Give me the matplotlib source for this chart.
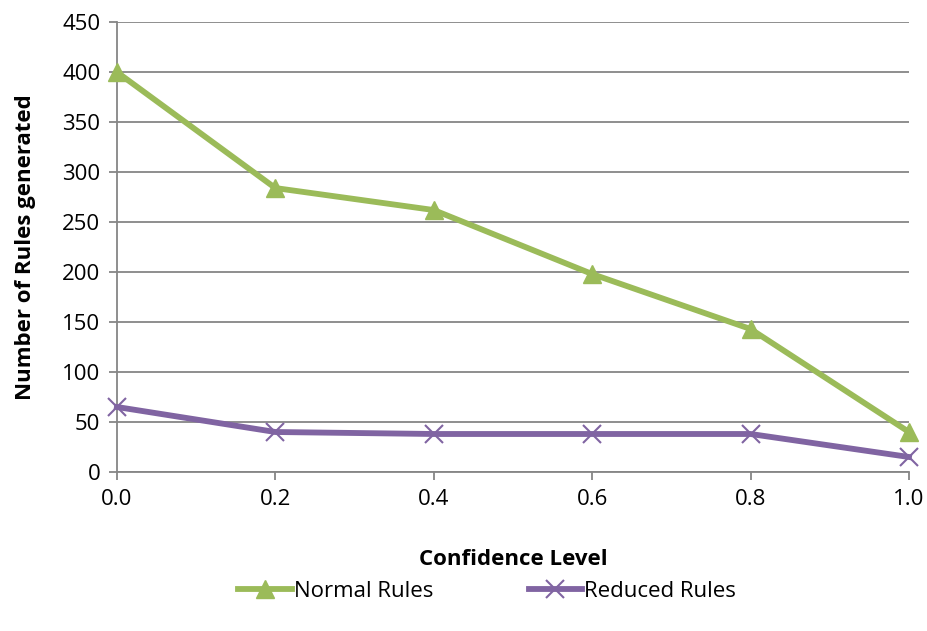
import matplotlib
matplotlib.use("Agg")
import matplotlib.pyplot as plt

confidence = [0.0, 0.2, 0.4, 0.6, 0.8, 1.0]
normal_rules = [400, 284, 262, 198, 143, 40]
reduced_rules = [65, 40, 38, 38, 38, 15]
x_ticks = [0.0, 0.2, 0.4, 0.6, 0.8, 1.0]
y_ticks = list(range(0, 451, 50))

plt.rcParams['font.family'] = ['Open Sans', 'DejaVu Sans']

fig = plt.figure(figsize=(9.28, 6.31), dpi=100)
ax = fig.add_axes([0.126, 0.252, 0.8535, 0.713])

green = '#9BBB59'
purple = '#8064A2'
grid_c = '#868686'

ax.plot(confidence, normal_rules, color=green, lw=4.2, marker='^', ms=13,
        markeredgecolor=green, label='Normal Rules', clip_on=False, zorder=3)
ax.plot(confidence, reduced_rules, color=purple, lw=4.2, marker='x', ms=13,
        markeredgewidth=1.5, markeredgecolor=purple, label='Reduced Rules',
        clip_on=False, zorder=3)

ax.set_xlim(0, 1.0)
ax.set_ylim(0, 450)
ax.set_xticks(x_ticks)
ax.set_xticklabels([f'{v:.1f}' for v in x_ticks])
ax.set_yticks(y_ticks)
ax.yaxis.grid(True, color=grid_c, lw=1.3)
ax.set_axisbelow(True)

for s in ['top', 'right']:
    ax.spines[s].set_visible(False)
for s in ['left', 'bottom']:
    ax.spines[s].set_color(grid_c)
    ax.spines[s].set_linewidth(1.3)
ax.tick_params(axis='both', direction='out', length=6, width=1.3, color=grid_c,
               labelsize=16, labelcolor='black', pad=6)

ax.set_xlabel('Confidence Level', fontsize=16, fontweight='bold', labelpad=28)
ax.set_ylabel('Number of Rules generated', fontsize=16, fontweight='bold', labelpad=19)

fig.legend(loc='center', bbox_to_anchor=(0.525, 0.063), ncol=2, frameon=False,
           fontsize=16, handlelength=2.4, handletextpad=0.1, columnspacing=4.3)

fig.savefig('out.png', dpi=100, facecolor='white')
